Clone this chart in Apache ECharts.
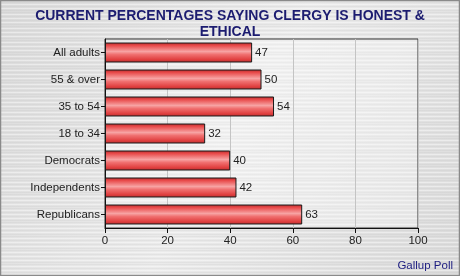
<!DOCTYPE html>
<html><head><meta charset="utf-8">
<script src="https://cdn.jsdelivr.net/npm/echarts@6/dist/echarts.min.js"></script>
<style>html,body{margin:0;padding:0;}#c{width:460px;height:276px;}</style>
</head><body><div id="c"></div>
<script>
const categories = ["All adults","55 & over","35 to 54","18 to 34","Democrats","Independents","Republicans"];
const values = [47,50,54,32,40,42,63];
const xTicks = [0,20,40,60,80,100];
const titleText = "CURRENT PERCENTAGES SAYING CLERGY IS HONEST &\nETHICAL";
const sourceText = "Gallup Poll";

const chart = echarts.init(document.getElementById('c'), null, {renderer:'canvas'});
const streaks = [];
for (let i = 0; i < 276; i += 2) {
  const shade = (i * 37) % 7;
  streaks.push({type:'rect', silent:true, z:-10,
    shape:{x:0, y:i, width:460, height:1},
    style:{fill: shade < 3 ? 'rgba(255,255,255,0.4)' : 'rgba(170,170,170,0.12)'}});
}
chart.setOption({
  animation:false,
  backgroundColor:{type:'linear',x:0,y:0,x2:1,y2:1,colorStops:[{offset:0,color:'#dadada'},{offset:0.5,color:'#ebebeb'},{offset:1,color:'#dadada'}]},
  title:{text:titleText,left:'center',top:3,textStyle:{fontFamily:'Liberation Sans',fontWeight:'bold',fontSize:14,color:'#1c1c70',lineHeight:16}},
  graphic:[
    ...streaks,
    {type:'rect',silent:true,z:-5,shape:{x:105,y:39,width:313,height:189},style:{fill:'rgba(255,255,255,0.3)'}},
    {type:'rect',silent:true,z:100,shape:{x:0.5,y:0.5,width:459,height:275},style:{fill:'none',stroke:'#8a8a8a',lineWidth:1.5}},
    {type:'text',right:7,bottom:4,style:{text:sourceText,fontFamily:'Liberation Sans',fontSize:11.5,fill:'#1c1c80'}}
  ],
  grid:{left:105,right:42,top:39,bottom:48,show:true,borderColor:'#333',borderWidth:1,backgroundColor:'transparent'},
  xAxis:{type:'value',min:0,max:100,interval:20,
    axisLine:{show:true,lineStyle:{color:'#111'}},
    axisTick:{show:true,length:5,lineStyle:{color:'#111'}},
    axisLabel:{color:'#222',fontFamily:'Liberation Sans',fontSize:11.5,margin:7,
      formatter:v=>xTicks.includes(v)?String(v):''},
    splitLine:{show:true,lineStyle:{color:'#c4c4c4'}}},
  yAxis:{type:'category',data:categories,inverse:true,
    axisLine:{show:true,lineStyle:{color:'#111'}},
    axisTick:{show:true,alignWithLabel:true,length:4,lineStyle:{color:'#111'}},
    axisLabel:{color:'#222',fontFamily:'Liberation Sans',fontSize:11.5,margin:5},
    splitLine:{show:false}},
  series:[{type:'bar',data:values,barCategoryGap:'26%',
    itemStyle:{borderColor:'#1a1a1a',borderWidth:1,
      color:{type:'linear',x:0,y:0,x2:0,y2:1,colorStops:[
        {offset:0,color:'#b52a2a'},{offset:0.15,color:'#e84a4a'},{offset:0.45,color:'#f7a3a3'},
        {offset:0.6,color:'#f07070'},{offset:0.85,color:'#e04040'},{offset:1,color:'#b83030'}]}},
    label:{show:true,position:'right',distance:3,color:'#222',fontFamily:'Liberation Sans',fontSize:11.5}}]
});
</script></body></html>
